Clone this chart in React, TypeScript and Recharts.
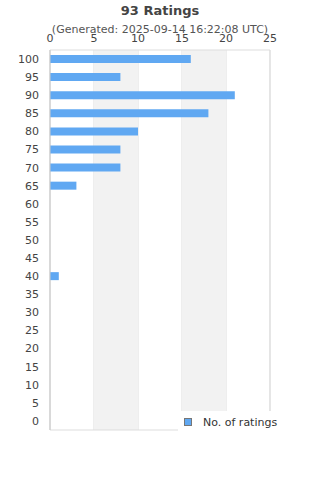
import React from 'react';
import { BarChart, Bar, XAxis, YAxis, CartesianGrid, ReferenceArea } from 'recharts';

const categories = ['100','95','90','85','80','75','70','65','60','55','50','45','40','35','30','25','20','15','10','5','0'];
const counts = [16, 8, 21, 18, 10, 8, 8, 3, 0, 0, 0, 0, 1, 0, 0, 0, 0, 0, 0, 0, 0];
const xTicks = [0, 5, 10, 15, 20, 25];
const title = '93 Ratings';
const subtitle = '(Generated: 2025-09-14 16:22:08 UTC)';
const seriesName = 'No. of ratings';

const data = categories.map((c, i) => ({ label: c, value: counts[i] }));

const FONT = '"DejaVu Sans", sans-serif';
const BAR = '#60a8f2';

export default function App() {
  return (
    <div style={{ position: 'absolute', left: 0, top: 0, width: 320, height: 480, background: '#fff' }}>
      <BarChart
        width={320}
        height={480}
        layout="vertical"
        data={data}
        margin={{ top: 38, right: 50, bottom: 50, left: 0 }}
        barCategoryGap={5}
      >
        <ReferenceArea x1={5} x2={10} fill="#f2f2f2" fillOpacity={1} stroke="none" ifOverflow="visible" />
        <ReferenceArea x1={15} x2={20} fill="#f2f2f2" fillOpacity={1} stroke="none" ifOverflow="visible" />
        <CartesianGrid horizontal={false} stroke="#dddddd" strokeDasharray="" />
        <ReferenceArea x1={0} x2={25} fill="none" stroke="#dddddd" strokeWidth={1} ifOverflow="visible" />
        <XAxis
          type="number"
          orientation="top"
          domain={[0, 25]}
          ticks={xTicks}
          height={12}
          axisLine={false}
          tickLine={false}
          tick={{ fill: '#444', fontSize: 11, fontFamily: FONT }}
          interval={0}
        />
        <YAxis
          type="category"
          dataKey="label"
          width={50}
          axisLine={{ stroke: '#cccccc' }}
          tickLine={false}
          tickMargin={5}
          interval={0}
          tick={{ fill: '#444', fontSize: 11, fontFamily: FONT }}
        />
        <Bar dataKey="value" name={seriesName} fill={BAR} barSize={8} isAnimationActive={false} />
      </BarChart>
      <div style={{ position: 'absolute', left: 178, top: 411, width: 142, height: 22, background: '#fff', display: 'flex', alignItems: 'center', fontFamily: FONT, fontSize: 11, color: '#333' }}>
        <svg width={10} height={10} style={{ marginLeft: 5, marginRight: 10 }}>
          <rect x={1.5} y={1.5} width={7} height={7} fill={BAR} stroke="#777" strokeWidth={1} />
        </svg>
        <span>{seriesName}</span>
      </div>
      <div style={{ position: 'absolute', left: 0, top: 3, width: 320, textAlign: 'center', fontFamily: FONT, fontSize: 13, fontWeight: 'bold', color: '#444' }}>{title}</div>
      <div style={{ position: 'absolute', left: 0, top: 23, width: 320, textAlign: 'center', fontFamily: FONT, fontSize: 11, color: '#555' }}>{subtitle}</div>
    </div>
  );
}
